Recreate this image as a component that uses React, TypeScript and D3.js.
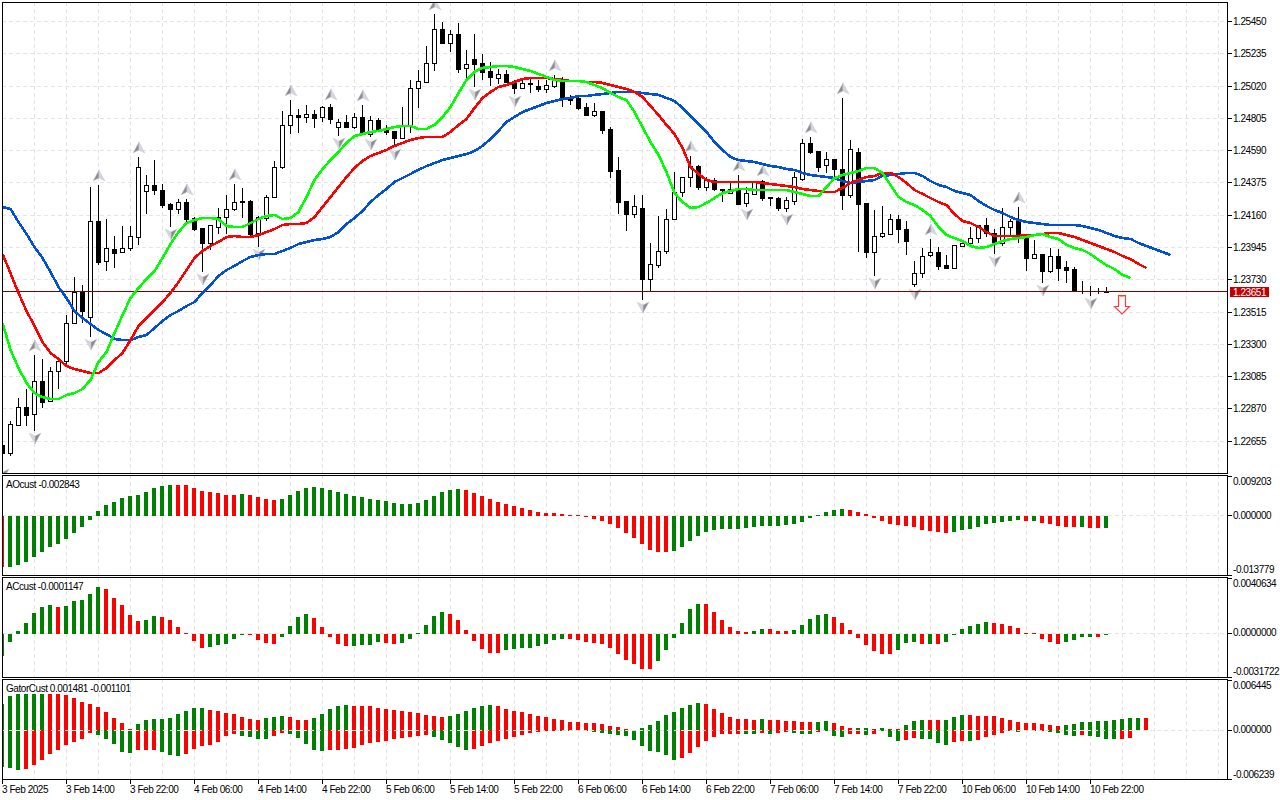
import React from 'react';
import * as d3 from 'd3';

// prices are in points (1 point = 0.00001)
const opens = [
  122628,122575,122762,122882,122835,123055,122922,123122,123188,123442,123648,123482,124122,123855,123935,123915,123942,124015,124322,124362,124328,124235,124202,124248,124142,124075,123975,124082,124148,124202,124255,124255,124042,124142,124282,124482,124762,124828,124815,124835,
  124815,124882,124748,124782,124748,124815,124702,124795,124728,124722,124675,124762,125008,125048,125175,125402,125308,125368,125142,125202,125175,125122,125075,125102,125042,125008,125035,125022,125002,125022,125068,124942,124942,124882,124828,124855,124735,124462,124255,124168,
  124208,123735,123828,123922,124135,124315,124415,124488,124348,124395,124335,124308,124335,124242,124302,124388,124282,124275,124208,124255,124402,124642,124588,124495,124535,124468,124295,124582,124242,123915,124022,124035,124135,124068,123702,123775,123895,123915,123828,123808,
  123955,123975,124008,124095,124042,123975,124082,124122,124028,123875,123902,123788,123888,123815,123802,123655,123655,123655,123650,
];
const highs = [
  122642,122788,122942,123002,123228,123202,123148,123215,123495,123748,123695,124348,124362,124135,124022,124088,124088,124548,124428,124528,124368,124242,124268,124268,124148,124075,124095,124208,124295,124368,124342,124262,124155,124295,124522,124855,124928,124868,124895,124862,
  124888,124902,124802,124828,124842,124895,124822,124808,124762,124722,124882,125062,125128,125288,125502,125448,125395,125442,125262,125368,125235,125182,125135,125128,125062,125062,125068,125062,125062,125095,125082,124962,124962,124908,124908,124855,124748,124548,124255,124295,
  124295,123975,124155,124202,124448,124415,124555,124495,124415,124408,124335,124375,124428,124348,124388,124395,124282,124282,124282,124448,124668,124682,124588,124582,124535,124942,124662,124608,124242,124195,124222,124168,124162,124122,123855,123942,124002,123948,123895,123962,
  123975,124082,124095,124142,124068,124208,124135,124215,124028,123995,123902,123942,123935,123855,123815,123722,123688,123675,123682,
];
const lows = [
  122482,122555,122755,122755,122722,122875,122915,123002,123155,123442,123442,123348,123828,123788,123808,123915,123922,123962,124168,124295,124208,124082,124168,124108,124055,123782,123928,124035,124035,124188,124142,124015,123948,124122,124282,124468,124702,124708,124775,124742,
  124782,124768,124688,124742,124735,124695,124682,124728,124695,124615,124668,124708,124875,125042,125122,125308,125248,125108,125062,125015,125062,125022,125035,125042,124968,125002,124975,124982,124975,125008,124882,124895,124862,124822,124815,124702,124408,124168,124055,124142,
  123595,123655,123808,123902,124135,124282,124348,124328,124322,124322,124248,124302,124228,124215,124295,124255,124222,124188,124182,124228,124388,124568,124448,124442,124415,124195,124275,123915,123875,123755,124008,124035,123975,123895,123682,123742,123882,123795,123802,123802,
  123948,123955,123975,124015,123902,123955,124015,123975,123788,123868,123708,123775,123722,123708,123655,123635,123622,123635,123642,
];
const closes = [
  122575,122768,122882,122828,123055,122915,123122,123188,123442,123648,123522,124122,123848,123942,123908,123942,124022,124482,124362,124328,124228,124202,124248,124135,124068,123975,124095,124148,124202,124248,124248,124035,124148,124282,124482,124762,124828,124815,124835,124808,
  124882,124802,124782,124748,124815,124702,124795,124735,124715,124675,124762,125008,125055,125175,125402,125308,125368,125135,125168,125168,125115,125082,125102,125048,125008,125042,125042,125002,125028,125062,124942,124928,124875,124828,124855,124728,124455,124248,124168,124222,
  123735,123835,123922,124135,124315,124415,124488,124348,124402,124335,124328,124335,124235,124308,124382,124275,124275,124208,124262,124415,124642,124582,124482,124535,124468,124295,124602,124235,123915,124022,124042,124135,124068,123988,123775,123888,123915,123822,123808,123962,
  123975,124008,124095,124042,123975,124082,124122,124028,123875,123902,123788,123888,123808,123795,123655,123655,123655,123655,123651,
];

const jaw = [
  124215,124202,124115,124035,123948,123875,123782,123682,123608,123522,123475,123435,123395,123368,123335,123328,123328,123348,123362,123408,123455,123495,123522,123555,123582,123642,123695,123755,123795,123822,123855,123882,123895,123902,123902,123922,123942,123968,123982,123995,
  124002,124015,124048,124102,124142,124188,124248,124295,124335,124382,124408,124435,124462,124488,124508,124528,124542,124555,124568,124588,124622,124668,124722,124782,124815,124848,124868,124888,124908,124922,124935,124942,124955,124955,124962,124968,124975,124982,124982,124982,
  124975,124968,124962,124942,124922,124875,124822,124768,124715,124648,124595,124548,124528,124522,124515,124502,124488,124482,124468,124462,124442,124428,124422,124415,124408,124388,124375,124382,124388,124395,124422,124428,124435,124442,124442,124422,124388,124362,124348,124322,
  124308,124295,124255,124222,124195,124175,124148,124128,124115,124108,124102,124095,124095,124095,124095,124088,124075,124062,124042,124022,124008,124002,123975,123955,123935,123915,123895,
];
const teeth = [
  123902,123775,123642,123522,123422,123315,123242,123202,123155,123135,123122,123108,123108,123142,123195,123242,123328,123422,123475,123528,123582,123642,123715,123795,123875,123922,123955,123982,124015,124022,124015,124015,124028,124048,124068,124095,124102,124102,124108,124148,
  124215,124282,124348,124415,124475,124522,124555,124575,124595,124622,124642,124662,124675,124682,124682,124682,124715,124762,124802,124875,124942,124982,125015,125028,125048,125068,125075,125075,125075,125068,125062,125055,125055,125048,125048,125042,125028,125015,125002,124982,
  124948,124888,124828,124762,124702,124608,124482,124435,124395,124382,124382,124382,124382,124382,124382,124375,124368,124362,124355,124348,124335,124328,124322,124315,124315,124342,124375,124395,124415,124422,124442,124442,124415,124375,124328,124302,124275,124248,124228,124168,
  124122,124108,124082,124048,124022,124022,124022,124022,124028,124028,124035,124042,124042,124028,124015,123995,123975,123955,123935,123915,123888,123868,123835,123808,
];
const lips = [
  123442,123262,123142,123042,122975,122948,122935,122935,122962,122975,123002,123062,123182,123248,123375,123495,123608,123675,123735,123788,123875,123968,124048,124108,124128,124142,124142,124135,124088,124082,124082,124108,124135,124155,124162,124135,124142,124182,124282,124395,
  124468,124528,124582,124642,124688,124702,124715,124722,124735,124748,124755,124755,124735,124735,124762,124815,124882,124975,125062,125115,125142,125148,125155,125155,125148,125135,125122,125102,125082,125062,125055,125055,125055,125048,125028,125008,124975,124948,124928,124848,
  124748,124648,124562,124448,124308,124248,124208,124215,124242,124275,124308,124322,124335,124335,124328,124328,124328,124328,124328,124315,124302,124288,124288,124348,124408,124428,124442,124455,124475,124475,124442,124362,124282,124248,124228,124195,124155,124082,124028,124008,
  123988,123955,123942,123948,123968,123988,124002,124008,124015,124028,124035,124015,124002,123962,123942,123928,123902,123862,123828,123802,123762,123742,
];

const upFractals = [4,12,17,23,29,36,41,45,54,69,86,92,95,101,105,116,127];
const downFractals = [0,4,11,21,25,32,42,46,49,59,64,80,93,98,109,114,124,130,136];

const aoValues = [
  -0.01183,-0.01183,-0.01137,-0.01067,-0.00951,-0.00835,-0.00719,-0.0065,-0.00534,-0.00394,-0.00255,-0.00093,
  0.00116,0.00255,0.00325,0.00418,0.00464,0.00487,0.00557,0.0065,0.00696,0.00719,0.00719,0.00719,0.0065,0.0058,0.00557,0.00534,0.00487,0.00487,0.0051,0.00487,0.00441,0.00394,0.00371,0.00394,0.00487,0.0058,0.0065,0.00673,0.0065,0.00603,0.00557,0.0051,0.00464,0.00441,0.00394,0.00371,0.00348,0.00302,0.00278,0.00278,0.00302,
  0.00371,0.00464,0.00557,0.00603,0.00626,0.00603,0.00534,0.00464,0.00394,0.00325,0.00278,0.00232,0.00186,0.00139,0.00093,0.0007,0.0007,0.00046,0.00023,0.00012,
  -0.00035,-0.0007,-0.00116,-0.00186,-0.00278,-0.00394,-0.0051,-0.0065,-0.00789,-0.00835,-0.00835,-0.00812,-0.00719,-0.0058,-0.00464,-0.00371,-0.00325,-0.00302,-0.00302,-0.00302,-0.00278,-0.00255,-0.00232,-0.00232,-0.00232,-0.00209,-0.00186,-0.00139,-0.00046,
  0.00023,0.00093,0.00139,0.00162,0.00139,0.00093,0.00046,
  -0.00046,-0.00116,-0.00186,-0.00209,-0.00232,-0.00255,-0.00325,-0.00348,-0.00371,-0.00394,-0.00371,-0.00325,-0.00302,-0.00255,-0.00186,-0.00162,-0.00139,-0.00116,-0.00093,-0.00116,-0.00116,-0.00162,-0.00186,-0.00232,-0.00255,-0.00255,-0.00255,-0.00278,-0.00278,-0.00284,
];
const aoColors = 'r ggggggggggggggggggggg rrrrrrrr g rrrr ggggggggggggggggggggggg rrrrrrrrrrrrrrrrrrrrrrrrrr gggggggggggggggggggggg rrrrrrrrrrrrr ggggggggg r g rrrrr g rr g';

const acValues = [
  -0.0016,-0.00058,0.00022,0.0008,0.00153,0.00196,0.00211,0.00196,0.00204,0.0024,0.00247,0.00291,0.00342,0.00327,0.00262,0.00211,0.00138,0.00095,0.00102,0.00131,
  0.00124,0.00102,0.00051,0.00007,-0.00051,-0.00102,-0.00095,-0.0008,-0.00073,-0.00036,-0.00007,-0.00004,-0.00044,-0.00065,-0.00073,-0.00022,0.00058,0.00124,0.00145,0.00116,
  0.00051,-0.00022,-0.00073,-0.00087,-0.00087,-0.0008,-0.0008,-0.00058,-0.00065,-0.00073,-0.00065,-0.00036,0.00007,0.00065,0.00131,0.0016,0.00145,0.00102,0.00029,-0.00051,
  -0.00109,-0.00138,-0.00138,-0.00116,-0.00109,-0.00102,-0.00102,-0.00087,-0.00073,-0.00044,-0.00036,-0.00036,-0.00044,-0.00058,-0.00065,-0.00073,-0.00102,-0.00145,-0.00189,-0.00218,
  -0.00254,-0.00254,-0.00196,-0.00116,-0.00029,0.0008,0.00182,0.00218,0.00218,0.0016,0.00102,0.00051,0.00022,0.00015,0.00022,0.00036,0.00036,0.00022,0.00022,0.00029,
  0.00065,0.00109,0.00138,0.00145,0.00124,0.0008,0.00029,-0.00029,-0.0008,-0.00124,-0.00145,-0.00145,-0.00116,-0.00065,-0.00058,-0.00073,-0.00073,-0.00073,-0.00058,-0.00007,
  0.00036,0.00058,0.00073,0.00087,0.0008,0.00073,0.00058,0.00044,0.00007,0.00004,-0.00036,-0.00058,-0.00073,-0.00058,-0.00044,-0.00022,-0.00022,-0.00022,-0.00011,
];
const acColors = 'ggggggg r ggggg rrrrr gg rrrrrr ggggg rrrr gggg rrrrr gggg rr gggggg rrrrrrr gggggggg rrrrrrrrrrr gggggg rrrrrr gg rrr ggggg rrrrrrrr ggg r g r gggggg rrrrrrrrr gggg r g';

const gatorUp = [
  0.00333,0.00435,0.00461,0.00461,0.00461,0.00461,0.00461,0.00461,0.00448,0.0041,0.00358,0.00333,0.00294,0.0023,0.00154,0.0009,0.00013,0.00077,0.00128,0.00141,
  0.00141,0.00154,0.00205,0.00243,0.00282,0.00282,0.00256,0.00243,0.00218,0.00205,0.00166,0.00141,0.00128,0.00154,0.00166,0.00179,0.00166,0.00128,0.00128,0.00154,
  0.00205,0.00269,0.00307,0.0032,0.00307,0.00307,0.00307,0.00282,0.00269,0.00256,0.00243,0.0023,0.00218,0.00192,0.00179,0.00166,0.00179,0.00205,0.00243,0.00282,
  0.00307,0.0032,0.00307,0.00269,0.00243,0.0023,0.00205,0.00179,0.00166,0.00141,0.00128,0.00102,0.00102,0.0009,0.0009,0.00077,0.00051,0.00038,0.00013,0,
  0.00026,0.00064,0.00115,0.00192,0.0023,0.00282,0.0032,0.00346,0.00333,0.00269,0.00218,0.00166,0.00141,0.00141,0.00128,0.00141,0.00128,0.00128,0.00115,0.00115,
  0.00102,0.00102,0.00102,0.00115,0.0009,0.00051,0.00026,0.00026,0.00026,0.00013,0.00026,0.00013,0.00013,0.00064,0.00115,0.00128,0.00128,0.00128,0.00128,0.00166,
  0.00192,0.00192,0.00179,0.00179,0.00179,0.00154,0.00128,0.00102,0.0009,0.0009,0.00077,0.00064,0.00051,0.00064,0.00077,0.00102,0.00102,0.00115,0.00115,0.00128,
  0.00141,0.00154,0.00154,0.00154,
];
const gatorUpColors = 'gggggg rrrrrrrrrrr ggggggggg rrrrrrr ggg rrr ggggg rrrrrrrrrrrr gggggg rrrrrrrrrrrrrrrrrr gggggggg rrrrrrr g rrrrrr gg rrr gg r g rr ggg rr ggg rrrrrrrrrrrr gggggggggg r';
const gatorDown = [
  -0.00474,-0.00486,-0.00512,-0.00499,-0.00448,-0.00384,-0.00307,-0.00256,-0.00192,-0.00154,-0.00115,-0.00038,-0.00064,-0.00115,-0.00179,-0.00282,-0.00294,-0.00256,-0.00256,-0.00256,
  -0.00282,-0.0032,-0.00333,-0.00307,-0.00243,-0.00205,-0.00192,-0.00154,-0.00077,-0.00051,-0.00077,-0.0009,-0.00115,-0.00115,-0.00077,-0.00038,-0.00051,-0.00102,-0.00179,-0.00256,
  -0.00269,-0.00256,-0.00256,-0.00243,-0.0023,-0.00192,-0.00166,-0.00154,-0.00141,-0.00115,-0.00102,-0.0009,-0.00077,-0.00064,-0.0009,-0.00128,-0.00166,-0.00218,-0.00256,-0.00243,
  -0.00205,-0.00166,-0.00141,-0.00115,-0.0009,-0.00064,-0.00038,-0.00026,-0.00013,-0.00013,-0.00013,-0.00013,-0.00013,-0.00013,-0.00026,-0.00038,-0.00051,-0.00064,-0.00077,-0.00128,
  -0.00205,-0.00269,-0.00282,-0.0032,-0.00384,-0.00358,-0.00294,-0.00218,-0.00141,-0.0009,-0.00051,-0.00051,-0.00051,-0.00051,-0.00051,-0.00038,-0.00051,-0.00038,-0.00026,-0.00038,
  -0.00051,-0.00051,-0.00026,-0.00013,-0.00077,-0.0009,-0.00051,-0.00051,-0.00064,-0.00051,-0.00013,-0.0009,-0.00141,-0.00128,-0.00102,-0.00115,-0.00115,-0.00166,-0.00192,-0.00154,
  -0.00141,-0.00141,-0.00128,-0.0009,-0.00064,-0.00038,-0.00013,-0.00026,-0.00013,-0.00006,-0.00006,-0.00026,-0.00038,-0.00064,-0.00077,-0.00064,-0.00077,-0.0009,-0.00115,-0.00115,
  -0.00115,-0.00102,
];
const gatorDownColors = 'ggg rrrrrrrrr ggggg rrr ggg rrrrrrr gggg rr ggggg rrrrrrrrrrrrr ggggg rrrrrrrrrrr ggggggggggggggg rrrrrrrr gg r g rr ggg r ggg rr g r ggg rr gggg rr g rrrr gg rrr gggg r gggg rr';

const priceTicks = [125450,125235,125020,124805,124590,124375,124160,123945,123730,123515,123300,123085,122870,122655];
const lastPrice = 123651;

const timeLabels = [
  '3 Feb 2025','3 Feb 14:00','3 Feb 22:00','4 Feb 06:00','4 Feb 14:00','4 Feb 22:00','5 Feb 06:00','5 Feb 14:00','5 Feb 22:00',
  '6 Feb 06:00','6 Feb 14:00','6 Feb 22:00','7 Feb 06:00','7 Feb 14:00','7 Feb 22:00','10 Feb 06:00','10 Feb 14:00','10 Feb 22:00',
];

const FONT = '"Liberation Sans", Arial, sans-serif';
const FS = 10;
const LS = -0.45;
const LEFT = 2;
const RIGHT = 1227;
const GREEN = '#008000';
const RED = '#ff0000';

const x = d3.scaleLinear().domain([0, 1]).range([2, 10]);
const px = (i: number) => Math.round(x(i)) + 0.5;

const yMain = d3.scaleLinear().domain([122442, 125578]).range([473, 2.5]);
const yAo = d3.scaleLinear().domain([-0.013779, 0.009203]).range([575, 476]);
const yAc = d3.scaleLinear().domain([-0.0031722, 0.0040634]).range([677.5, 578]);
const yGator = d3.scaleLinear().domain([-0.006239, 0.006445]).range([779, 680]);
const row = (y: number) => Math.floor(y) + 0.5;

const colorsOf = (s: string) => s.replace(/ /g, '').split('').map(c => (c === 'g' ? GREEN : RED));

const gridXs = d3.range(34, 1220, 32);

const panels = [
  { id: 'main', top: 2, bottom: 473 },
  { id: 'ao', top: 475, bottom: 575 },
  { id: 'ac', top: 577, bottom: 677 },
  { id: 'gator', top: 679, bottom: 779 },
];

const DASH = { stroke: '#e4e4e4', strokeDasharray: '4 3', shapeRendering: 'crispEdges' };

const Grid = ({ top, bottom, ys }: { top: number; bottom: number; ys: number[] }) => (
  <g {...DASH}>
    {gridXs.map(gx => <line key={gx} x1={gx + 0.5} x2={gx + 0.5} y1={top} y2={bottom} />)}
    {ys.map(gy => <line key={gy} x1={LEFT} x2={RIGHT} y1={row(gy)} y2={row(gy)} />)}
  </g>
);

const Bars = ({ values, colors, y }: { values: number[]; colors: string[]; y: d3.ScaleLinear<number, number> }) => (
  <g shapeRendering="crispEdges">
    {values.map((v, i) => {
      const y0 = Math.round(y(0));
      const y1 = Math.round(y(v));
      return (
        <rect
          key={i}
          x={Math.round(x(i)) - 2}
          width={4}
          y={Math.min(y0, y1)}
          height={Math.max(1, Math.abs(y1 - y0))}
          fill={colors[i]}
        />
      );
    })}
  </g>
);

const AxisLabel = ({ y, text, fill = '#000' }: { y: number; text: string; fill?: string }) => (
  <text x={1233} y={y} dominantBaseline="central" fontFamily={FONT} fontSize={FS} letterSpacing={LS} fill={fill}>{text}</text>
);

const Fractal = ({ cx, cy, up }: { cx: number; cy: number; up: boolean }) => {
  const s = up ? 1 : -1;
  const apex = `${cx},${cy - 6 * s}`;
  const notch = `${cx},${cy + 2 * s}`;
  const left = `${cx - 6},${cy + 5 * s}`;
  const right = `${cx + 6},${cy + 5 * s}`;
  return (
    <g>
      <polygon points={`${apex} ${left} ${notch}`} fill={up ? '#8c8c8c' : '#d4d4dc'} stroke="#c8ccd8" strokeWidth={0.5} />
      <polygon points={`${apex} ${right} ${notch}`} fill={up ? '#d4d4dc' : '#8c8c8c'} stroke="#c8ccd8" strokeWidth={0.5} />
    </g>
  );
};

export default function App() {
  const line = d3.line<number>().x((_, i) => x(i) + 0.5).y(d => yMain(d));
  const yLast = row(yMain(lastPrice));
  const priceLabels = priceTicks.map(p => (p / 100000).toFixed(5));

  return (
    <svg width={1280} height={800} style={{ position: 'absolute', left: 0, top: 0, background: '#fff' }}>
      <defs>
        {panels.map(p => (
          <clipPath key={p.id} id={`clip-${p.id}`}>
            <rect x={LEFT} y={p.top} width={RIGHT - LEFT} height={p.bottom - p.top} />
          </clipPath>
        ))}
      </defs>

      {/* main price panel */}
      <g clipPath="url(#clip-main)">
        <Grid top={2} bottom={473} ys={priceTicks.map(p => yMain(p))} />
        <g shapeRendering="crispEdges">
          {opens.map((o, i) => {
            const c = closes[i];
            const cx = px(i);
            const top = Math.round(yMain(Math.max(o, c))) + 0.5;
            const bot = Math.round(yMain(Math.min(o, c))) + 0.5;
            return (
              <g key={i}>
                <line x1={cx} x2={cx} y1={Math.round(yMain(highs[i]))} y2={Math.round(yMain(lows[i]))} stroke="#000" />
                {bot - top < 1
                  ? <line x1={cx - 2.5} x2={cx + 2.5} y1={top} y2={top} stroke="#000" />
                  : <rect x={cx - 2} y={top} width={4} height={bot - top} fill={c >= o ? '#fff' : '#000'} stroke="#000" />}
              </g>
            );
          })}
        </g>
        {upFractals.map(i => <Fractal key={i} cx={x(i) + 1} cy={yMain(highs[i]) - 9} up />)}
        {downFractals.map(i => <Fractal key={i} cx={x(i) + 1} cy={yMain(lows[i]) + 7} up={false} />)}
        <line x1={LEFT} x2={RIGHT} y1={yLast} y2={yLast} stroke="#800000" shapeRendering="crispEdges" />
        <g fill="none" strokeWidth={2.6} shapeRendering="crispEdges">
          <path d={line(jaw) ?? ''} stroke="#0050d8" />
          <path d={line(teeth) ?? ''} stroke="#ff0000" />
          <path d={line(lips) ?? ''} stroke="#00ff00" />
        </g>
        <path
          d="M1118.5 295.5 H1125.5 V306.5 H1129.5 L1122 314 L1114.5 306.5 H1118.5 Z"
          fill="#fff"
          stroke="#ff3b3b"
          strokeWidth={1.2}
        />
        <path d="M1119.5 296.5 H1124.5" stroke="#f0a060" fill="none" />
      </g>

      {/* AO */}
      <g clipPath="url(#clip-ao)">
        <Grid top={475} bottom={575} ys={[yAo(0)]} />
        <Bars values={aoValues} colors={colorsOf(aoColors)} y={yAo} />
      </g>

      {/* AC */}
      <g clipPath="url(#clip-ac)">
        <Grid top={577} bottom={677} ys={[yAc(0)]} />
        <Bars values={acValues} colors={colorsOf(acColors)} y={yAc} />
      </g>

      {/* Gator, its zero line runs over the bars */}
      <g clipPath="url(#clip-gator)">
        <Grid top={679} bottom={779} ys={[]} />
        <Bars values={gatorUp} colors={colorsOf(gatorUpColors)} y={yGator} />
        <Bars values={gatorDown} colors={colorsOf(gatorDownColors)} y={yGator} />
        <line {...DASH} x1={LEFT} x2={RIGHT} y1={row(yGator(0))} y2={row(yGator(0))} />
      </g>

      {/* frames */}
      <g fill="none" stroke="#000" shapeRendering="crispEdges">
        {panels.map(p => (
          <rect key={p.id} x={LEFT + 0.5} y={p.top + 0.5} width={RIGHT - LEFT} height={p.bottom - p.top} />
        ))}
        {priceTicks.map(p => {
          const ty = row(yMain(p));
          return <line key={p} x1={RIGHT} x2={RIGHT + 5} y1={ty} y2={ty} />;
        })}
        {[476, 515, 575, 578, 633, 677, 680, 730, 779].map(ty => (
          <line key={ty} x1={RIGHT} x2={RIGHT + 5} y1={ty + 0.5} y2={ty + 0.5} />
        ))}
        {timeLabels.map((_, i) => {
          const tx = 2 + 64 * i;
          return <line key={i} x1={tx + 0.5} x2={tx + 0.5} y1={779} y2={784} />;
        })}
      </g>

      {/* price scale */}
      {priceTicks.map((p, i) => <AxisLabel key={p} y={row(yMain(p))} text={priceLabels[i]} />)}
      <rect x={1230} y={287} width={39} height={10} fill="#c00000" shapeRendering="crispEdges" />
      <AxisLabel y={292} text={(lastPrice / 100000).toFixed(5)} fill="#fff" />

      <AxisLabel y={481} text="0.009203" />
      <AxisLabel y={515} text="0.000000" />
      <AxisLabel y={569} text="-0.013779" />
      <AxisLabel y={583} text="0.0040634" />
      <AxisLabel y={632} text="0.0000000" />
      <AxisLabel y={671} text="-0.0031722" />
      <AxisLabel y={685} text="0.006445" />
      <AxisLabel y={729} text="0.000000" />
      <AxisLabel y={774} text="-0.006239" />

      {/* indicator names */}
      <g fontFamily={FONT} fontSize={FS} letterSpacing={LS} fill="#000" dominantBaseline="central">
        <text x={6} y={484}>AOcust -0.002843</text>
        <text x={6} y={586}>ACcust -0.0001147</text>
        <text x={6} y={688}>GatorCust 0.001481 -0.001101</text>
      </g>

      {/* time scale */}
      <g fontFamily={FONT} fontSize={FS} letterSpacing={LS} fill="#000" dominantBaseline="central">
        {timeLabels.map((t, i) => <text key={t} x={2 + 64 * i} y={789}>{t}</text>)}
      </g>
    </svg>
  );
}
